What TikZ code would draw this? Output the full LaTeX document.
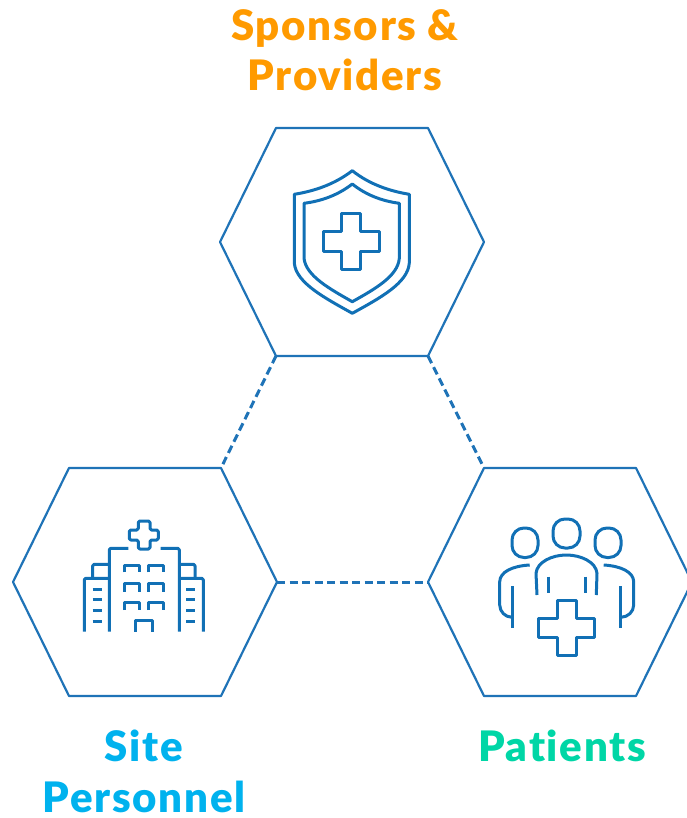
\documentclass[tikz,border=0pt]{standalone}
\usepackage{fontspec}
\setmainfont[BoldFont={Lato Black},LetterSpace=4,Ligatures=NoCommon]{Lato}
\definecolor{hexblue}{HTML}{1F73B7}
\definecolor{iconblue}{HTML}{1170B5}
\definecolor{orangetxt}{HTML}{FF9A00}
\definecolor{cyantxt}{HTML}{00B2EE}
\definecolor{greentxt}{HTML}{00D6A6}
\tikzset{
  hexline/.style={draw=hexblue,line width=2.2pt,line join=round},
  linkline/.style={draw=hexblue,line width=3pt,dash pattern=on 8pt off 4.5pt},
  iconline/.style={draw=iconblue,line width=3pt,line join=round},
  lbl/.style={font=\fontsize{42}{42}\selectfont\bfseries,inner sep=0pt,anchor=base},
}
\begin{document}
\begin{tikzpicture}[x=1pt,y=-1pt]
\useasboundingbox (0,0) rectangle (687,818);
\begin{scope}
\clip (0,0) rectangle (687,818);
% top hexagon
\coordinate (tA) at (276,128);\coordinate (tB) at (428,128);\coordinate (tC) at (484,242);
\coordinate (tD) at (428,356);\coordinate (tE) at (276,356);\coordinate (tF) at (220,242);
\draw[hexline] (tA)--(tB)--(tC)--(tD)--(tE)--(tF)--cycle;
% left hexagon
\coordinate (lA) at (69,468);\coordinate (lB) at (221,468);\coordinate (lC) at (277,582);
\coordinate (lD) at (221,696);\coordinate (lE) at (69,696);\coordinate (lF) at (13,582);
\draw[hexline] (lA)--(lB)--(lC)--(lD)--(lE)--(lF)--cycle;
% right hexagon
\coordinate (rA) at (484,468);\coordinate (rB) at (636,468);\coordinate (rC) at (692,582);
\coordinate (rD) at (636,696);\coordinate (rE) at (484,696);\coordinate (rF) at (428,582);
\draw[hexline] (rA)--(rB)--(rC)--(rD)--(rE)--(rF)--cycle;
\end{scope}
% links
\draw[linkline] (tE)--(lB);
\draw[linkline] (tD)--(rA);
\draw[linkline] (lC)--(rF);
% shield
\draw[iconline] (352.3,170.7) .. controls (335,184) and (315,191) .. (294.3,194.3) -- (294.3,263)
  .. controls (296,283) and (325,298) .. (352.3,313.3)
  .. controls (380,298) and (408,283) .. (409.3,263) -- (409.3,194.3)
  .. controls (389,191) and (369,184) .. (352.3,170.7) -- cycle;
\draw[iconline] (352.3,184) .. controls (338,195) and (322,201) .. (304,203.3) -- (304,258.3)
  .. controls (306,276) and (330,289) .. (352.3,301.7)
  .. controls (375,289) and (398,276) .. (399.3,258.3) -- (399.3,203.3)
  .. controls (382,201) and (366,195) .. (352.3,184) -- cycle;
\draw[iconline] (341.7,213.3)--(360,213.3)--(360,231.7)--(379,231.7)--(379,251)--(360,251)--(360,269.3)--(341.7,269.3)--(341.7,251)--(323.3,251)--(323.3,231.7)--(341.7,231.7)--cycle;
% building
\draw[iconline,rounded corners=1.5pt] (138.3,521)--(150,521)--(150,530)--(158.3,530)--(158.3,540)--(150,540)--(150,549)--(138.3,549)--(138.3,540)--(129.3,540)--(129.3,530)--(138.3,530)--cycle;
\draw[iconline,rounded corners=1.5pt] (109.3,631.7)--(109.3,548.3)--(128.3,548.3);
\draw[iconline,rounded corners=1.5pt] (160.7,548.3)--(179.3,548.3)--(179.3,631.7);
\draw[iconline,rounded corners=1.5pt] (84.3,631.7)--(84.3,578.3)--(109.3,578.3);
\draw[iconline,rounded corners=1.5pt] (92.7,578.3)--(92.7,564.3)--(109.3,564.3);
\draw[iconline,rounded corners=1.5pt] (203.3,631.7)--(203.3,578.3)--(179.3,578.3);
\draw[iconline,rounded corners=1.5pt] (195,578.3)--(195,564.3)--(179.3,564.3);
\foreach \yt/\yb in {565/572.3,583.3/591.7,602.3/610}{
  \draw[iconline] (124.3,\yb)--(124.3,\yt)--(139.3,\yt)--(139.3,\yb);
  \draw[iconline] (148,\yb)--(148,\yt)--(163.3,\yt)--(163.3,\yb);
}
\draw[iconline] (135,631.7)--(135,620.7)--(152.7,620.7)--(152.7,631.7);
\foreach \yy in {589,599.3,610.7,621}{
  \draw[iconline] (92.7,\yy)--(101.7,\yy);
  \draw[iconline] (186,\yy)--(195,\yy);
}
% people
\draw[iconline,rounded corners=12pt] (553,519)rectangle(580,548);
\draw[iconline,rounded corners=12pt] (512,528)rectangle(538,557.5);
\draw[iconline,rounded corners=12pt] (595,528)rectangle(621,557.5);
\draw[iconline] (537,595) -- (536,573.3) .. controls (537,562) and (552,555) .. (566.3,555) .. controls (581,555) and (596,562) .. (597,573.3) -- (596.3,595);
\draw[iconline] (548.7,576.7)--(548.7,593.3);
\draw[iconline] (585.3,576.7)--(585.3,593.3);
\draw[iconline] (529.7,565) .. controls (512,566) and (500,572) .. (499.7,581.7) -- (499.7,605) .. controls (500,612) and (505,617) .. (512,617.3);
\draw[iconline] (512.7,586)--(512.7,628.3);
\draw[iconline] (603.7,565) .. controls (621,566) and (633.5,572) .. (633.7,581.7) -- (633.7,605) .. controls (633.5,612) and (628,617) .. (621,617.3);
\draw[iconline] (620.3,586)--(620.3,628.3);
\draw[iconline] (557.7,600)--(576.3,600)--(576.3,618.3)--(594.7,618.3)--(594.7,637.3)--(576.3,637.3)--(576.3,655.7)--(557.7,655.7)--(557.7,637.3)--(538.7,637.3)--(538.7,618.3)--(557.7,618.3)--cycle;
% labels
\node[lbl,text=orangetxt] (sp1) at (345,41) {Sponsors \&};
\node[lbl,text=orangetxt] (sp2) at (345,91) {Providers};
\node[lbl,text=cyantxt] (si1) at (144,761) {Site};
\node[lbl,text=cyantxt] (si2) at (144,812) {Personnel};
\node[lbl,text=greentxt] (pa) at (562,761) {Patients};
\end{tikzpicture}
\end{document}
